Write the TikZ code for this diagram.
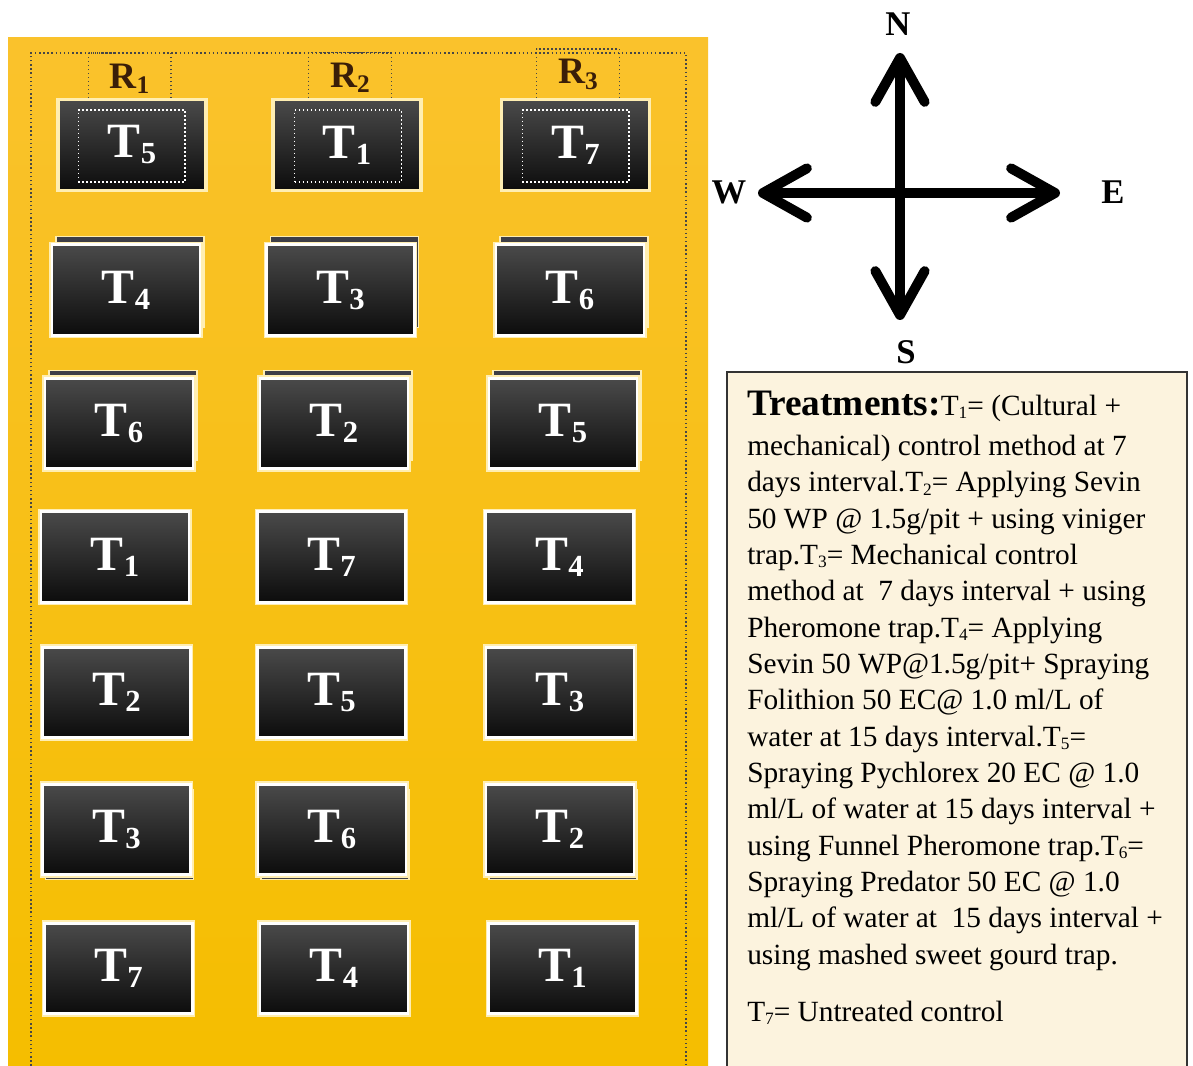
\documentclass[tikz,border=0pt]{standalone}
\usepackage{fontspec}
\setmainfont{Liberation Serif}
\usepackage{tikz}
\usetikzlibrary{arrows.meta}

\definecolor{fieldtop}{RGB}{250,194,44}
\definecolor{fieldlow}{RGB}{245,190,0}
\definecolor{plottop}{RGB}{74,74,74}
\definecolor{plotlow}{RGB}{12,12,12}
\definecolor{glow}{RGB}{255,238,178}
\definecolor{backgrey}{RGB}{62,62,70}
\definecolor{reptext}{RGB}{58,30,8}
\definecolor{paper}{RGB}{252,243,222}
\definecolor{dotgrey}{RGB}{70,70,70}

\newcommand{\tsub}[1]{\raisebox{-2.5pt}{\fontsize{13}{13}\selectfont #1}}
\newcommand{\plotname}[1]{T\raisebox{-4.5pt}{\fontsize{23}{23}\selectfont #1}}
\newcommand{\repname}[1]{R\raisebox{-4pt}{\fontsize{19}{19}\selectfont #1}}

\begin{document}
\begin{tikzpicture}[x=0.75pt, y=-0.75pt,
    tile/.style={minimum width=111pt, minimum height=68pt, inner sep=0pt,
        top color=plottop, bottom color=plotlow, text=white,
        font=\fontsize{37}{37}\selectfont\bfseries},
    plotbox/.style={tile, draw=white, line width=2.2pt,
        preaction={draw=glow, line width=4.4pt}},
    firstplot/.style={tile, draw=glow, line width=2.4pt},
    backplot/.style={minimum width=111pt, minimum height=68pt, inner sep=0pt,
        fill=backgrey, draw=glow, line width=0.8pt},
    frame/.style={draw=white, dotted, line width=1pt, minimum width=80pt,
        minimum height=54pt, inner sep=0pt},
    rep/.style={draw=dotgrey, dotted, line width=1pt, minimum width=62pt,
        minimum height=38pt, inner sep=0pt, text=reptext,
        font=\fontsize{28}{28}\selectfont\bfseries},
    compass/.style={line width=7.4pt,
        {Straight Barb[length=33pt, width=37pt, round]}-{Straight Barb[length=33pt, width=37pt, round]}},
    dir/.style={font=\fontsize{26}{26}\selectfont\bfseries}]

    % Page and field
    \useasboundingbox (0,0) rectangle (1193,1066);
    \fill[white] (0,0) rectangle (1193,1066);
    \fill[top color=fieldtop, bottom color=fieldlow] (8,38) rectangle (708,1066);
    \draw[dotgrey, dotted, line width=1.1pt] (31,1070) -- (31,53) -- (686,53) -- (686,1070);

    % Replications
    \node[rep] (r1) at (129.5,78.5) {\repname{1}};
    \node[rep] (r2) at (350,78) {\repname{2}};
    \node[rep] (r3) at (578,74.5) {\repname{3}};

    % Stacked tiles behind rows 2, 3, 6 and 7
    \node[backplot] (b21) at (130,282) {};
    \node[backplot] (b22) at (344.5,282) {};
    \node[backplot] (b23) at (574,282) {};
    \node[backplot] (b31) at (123,415.5) {};
    \node[backplot] (b32) at (338,415.5) {};
    \node[backplot] (b33) at (567,415.5) {};
    \node[backplot] (b61) at (119.5,834.5) {};
    \node[backplot] (b62) at (335,834.5) {};
    \node[backplot] (b63) at (563,834.5) {};
    \node[backplot] (b71) at (120.5,971.5) {};
    \node[backplot] (b72) at (336,971.5) {};
    \node[backplot] (b73) at (564.5,971.5) {};

    % Row 1
    \node[firstplot] (p11) at (132,145) {\plotname{5}};
    \node[firstplot] (p12) at (347,145) {\plotname{1}};
    \node[firstplot] (p13) at (575.5,145) {\plotname{7}};
    \node[frame] (f11) at (131.5,146) {};
    \node[frame] (f12) at (348,146) {};
    \node[frame] (f13) at (575.5,146) {};

    % Row 2
    \node[plotbox] (p21) at (126,290) {\plotname{4}};
    \node[plotbox] (p22) at (340.5,290) {\plotname{3}};
    \node[plotbox] (p23) at (570,290) {\plotname{6}};

    % Row 3
    \node[plotbox] (p31) at (119,423.5) {\plotname{6}};
    \node[plotbox] (p32) at (334,423.5) {\plotname{2}};
    \node[plotbox] (p33) at (563,423.5) {\plotname{5}};

    % Row 4
    \node[plotbox] (p41) at (115,557) {\plotname{1}};
    \node[plotbox] (p42) at (331.5,557) {\plotname{7}};
    \node[plotbox] (p43) at (559.5,557) {\plotname{4}};

    % Row 5
    \node[plotbox] (p51) at (116.5,692.5) {\plotname{2}};
    \node[plotbox] (p52) at (331.5,692.5) {\plotname{5}};
    \node[plotbox] (p53) at (560,692.5) {\plotname{3}};

    % Row 6
    \node[plotbox] (p61) at (116.5,829.5) {\plotname{3}};
    \node[plotbox] (p62) at (332,829.5) {\plotname{6}};
    \node[plotbox] (p63) at (560,829.5) {\plotname{2}};

    % Row 7
    \node[plotbox] (p71) at (118.5,968.5) {\plotname{7}};
    \node[plotbox] (p72) at (334,968.5) {\plotname{4}};
    \node[plotbox] (p73) at (562.5,968.5) {\plotname{1}};

    % Compass
    \coordinate (n) at (900,53);
    \coordinate (s) at (900,320);
    \coordinate (w) at (758,193);
    \coordinate (e) at (1060,193);
    \draw[compass] (w) -- (e);
    \draw[compass] (s) -- (n);
    \node[dir] (N) at (898,24) {N};
    \node[dir] (S) at (906,352) {S};
    \node[dir] (W) at (729,192) {W};
    \node[dir] (E) at (1113,192) {E};

    % Treatments
    \draw[fill=paper, draw=black!80, line width=1.1pt] (727,372) rectangle (1187,1075);
    \node[anchor=north west, inner sep=0pt, align=left,
        font=\fontsize{22}{27.25}\selectfont] (treat) at (747,390.5) {%
        {\fontsize{28}{27.25}\selectfont\bfseries Treatments:}T\tsub{1}= (Cultural +\\[3pt]
        mechanical) control method at 7\\
        days interval.T\tsub{2}= Applying Sevin\\
        50 WP @ 1.5g/pit + using viniger\\
        trap.T\tsub{3}= Mechanical control\\
        method at~ 7 days interval + using\\
        Pheromone trap.T\tsub{4}= Applying\\
        Sevin 50 WP@1.5g/pit+ Spraying\\
        Folithion 50 EC@ 1.0 ml/L of\\
        water at 15 days interval.T\tsub{5}=\\
        Spraying Pychlorex 20 EC @ 1.0\\
        ml/L of water at 15 days interval +\\
        using Funnel Pheromone trap.T\tsub{6}=\\
        Spraying Predator 50 EC @ 1.0\\
        ml/L of water at~ 15 days interval +\\
        using mashed sweet gourd trap.\\[15.5pt]
        T\tsub{7}= Untreated control};
\end{tikzpicture}
\end{document}
